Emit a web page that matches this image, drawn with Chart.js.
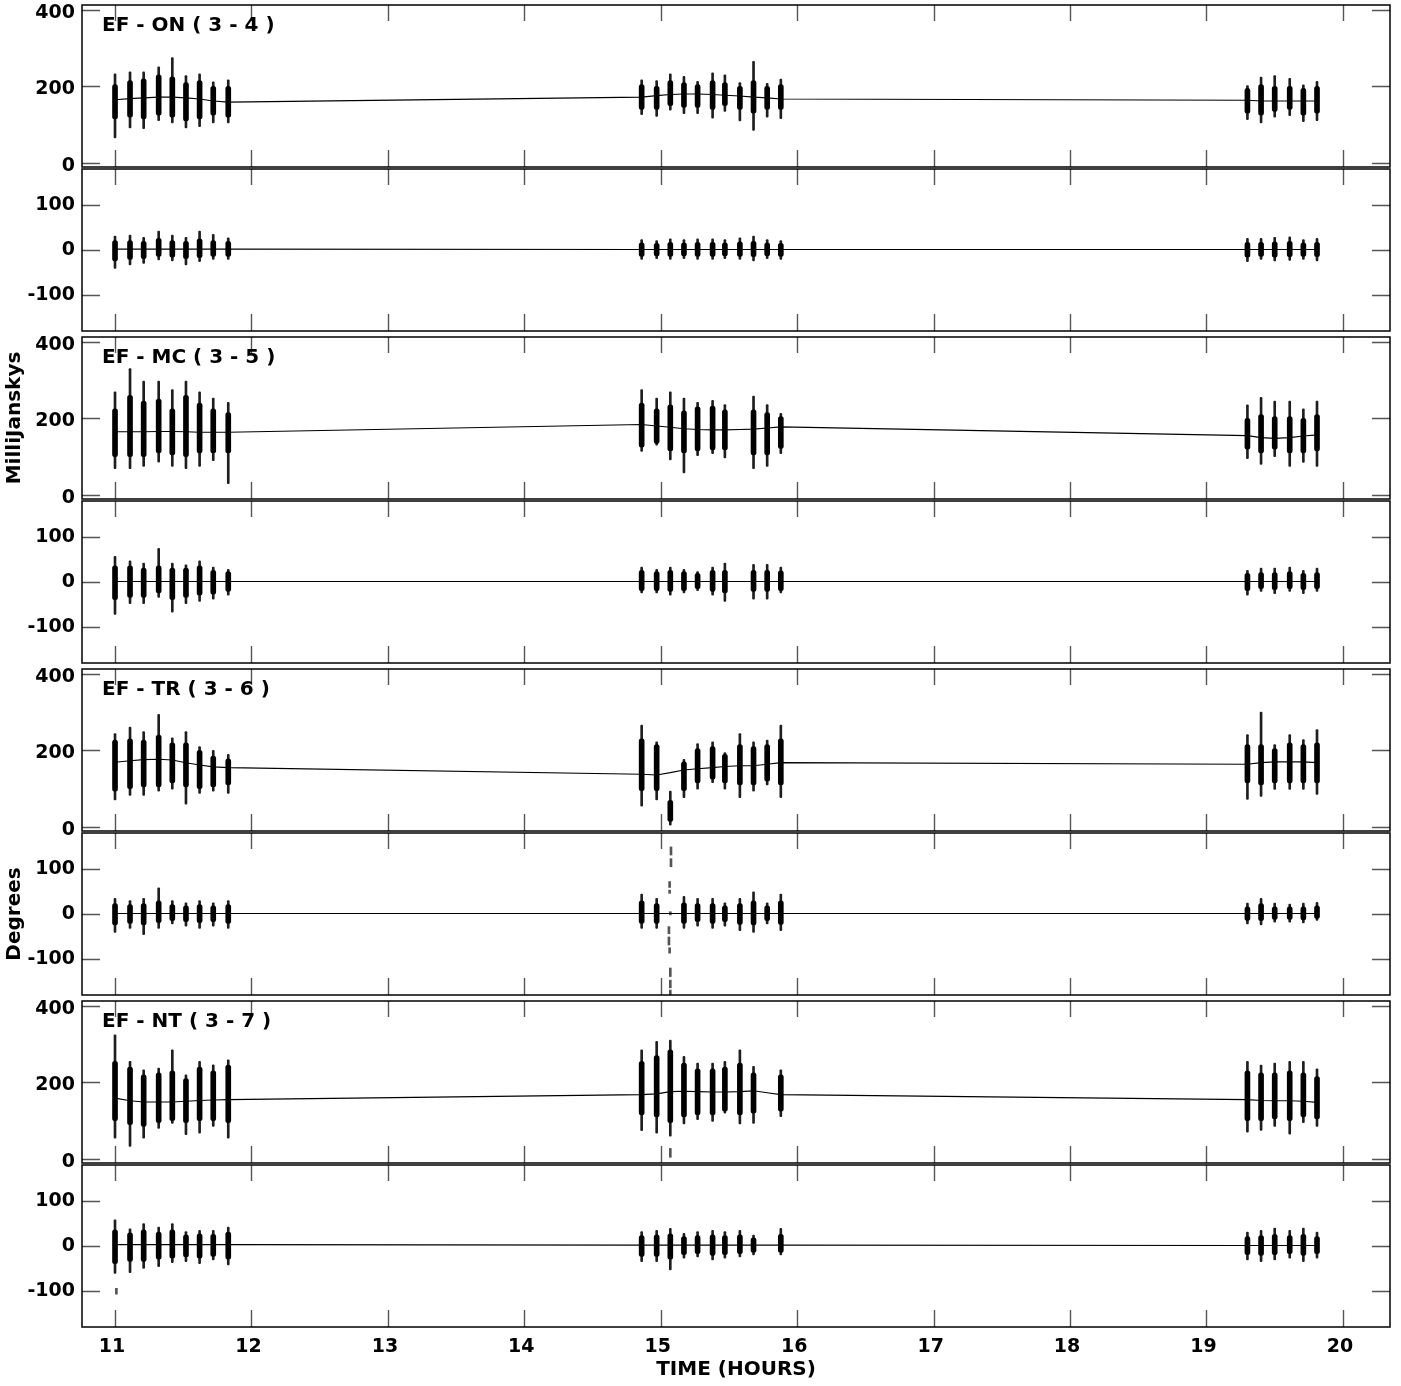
<!DOCTYPE html>
<html>
<head>
<meta charset="utf-8">
<script src="https://cdn.jsdelivr.net/npm/chart.js@4.4.1/dist/chart.umd.min.js"></script>
<style>
html,body{margin:0;padding:0;background:#fff;overflow:hidden;}
#wrap{position:relative;width:1401px;height:1386px;background:#fff;overflow:hidden;}
#wrap canvas{position:absolute;left:0;}
</style>
</head>
<body>
<div id="wrap"></div>
<script>
// ---------------- DATA ----------------
const scanTimes = [11.00, 11.11, 11.21, 11.32, 11.42, 11.52, 11.62, 11.72, 11.83,
                   14.86, 14.97, 15.07, 15.17, 15.27, 15.38, 15.47, 15.58, 15.68, 15.78, 15.88,
                   19.30, 19.40, 19.50, 19.61, 19.71, 19.81];
const xTicks = [11, 12, 13, 14, 15, 16, 17, 18, 19, 20];
const ampTicks = [0, 200, 400];
const phaseTicks = [-100, 0, 100];
const baselineTitles = ['EF - ON ( 3 - 4 )', 'EF - MC ( 3 - 5 )', 'EF - TR ( 3 - 6 )', 'EF - NT ( 3 - 7 )'];
const xTitle = 'TIME (HOURS)';
const ampTitle = 'MilliJanskys';
const phaseTitle = 'Degrees';

// EF - ON
const onAmpLo     = [66, 92, 90, 111, 105, 92, 95, 105, 105, 126, 122, 138, 129, 129, 117, 135, 110, 85, 120, 116, 113, 105, 120, 124, 108, 111];
const onAmpHi     = [233, 238, 238, 251, 275, 228, 233, 212, 217, 217, 215, 233, 226, 213, 235, 230, 210, 265, 208, 219, 202, 224, 228, 221, 204, 213];
const onAmpCoreLo = [115, 120, 115, 125, 120, 110, 115, 125, 120, 140, 140, 150, 145, 145, 140, 150, 140, 130, 140, 140, 130, 125, 135, 140, 125, 130];
const onAmpCoreHi = [205, 215, 220, 230, 225, 210, 215, 200, 200, 205, 200, 215, 210, 205, 215, 210, 200, 215, 200, 205, 195, 205, 200, 200, 195, 200];
const onAmpModel  = [165, 168, 170, 172, 172, 170, 167, 162, 159, 172, 176, 179, 180, 180, 179, 177, 175, 172, 170, 167, 164, 162, 162, 162, 162, 162];
const onPhLo      = [-42, -34, -31, -23, -25, -34, -27, -22, -22, -22, -20, -22, -20, -22, -22, -20, -22, -25, -20, -22, -27, -22, -25, -24, -22, -25];
const onPhHi      = [30, 32, 27, 41, 32, 27, 41, 34, 26, 22, 20, 24, 22, 24, 24, 22, 26, 30, 22, 20, 25, 25, 27, 28, 22, 25];
const onPhCoreLo  = [-25, -22, -20, -15, -17, -20, -18, -15, -15, -15, -14, -15, -14, -15, -15, -14, -15, -16, -14, -15, -17, -15, -17, -16, -15, -16];
const onPhCoreHi  = [20, 20, 18, 25, 20, 18, 24, 20, 18, 15, 14, 16, 15, 16, 16, 15, 17, 18, 15, 14, 16, 16, 17, 18, 15, 16];
const onPhModel   = [1, 1, 1, 1, 1, 1, 1, 1, 1, 0, 0, 0, 0, 0, 0, 0, 0, 0, 0, 0, 0, 0, 0, 0, 0, 0];

// EF - MC
const mcAmpLo     = [69, 69, 75, 86, 75, 69, 75, 90, 30, 114, 130, 92, 58, 103, 108, 97, null, 69, 75, 108, 95, 80, 100, 75, 85, 75];
const mcAmpHi     = [269, 330, 297, 297, 275, 297, 269, 253, 242, 275, 253, 269, 253, 242, 247, 236, null, 258, 236, 213, 235, 255, 245, 245, 225, 245];
const mcAmpCoreLo = [100, 100, 100, 110, 105, 100, 110, 110, 110, 125, 135, 115, 110, 115, 118, 118, null, 105, 105, 122, 120, 110, 120, 110, 110, 115];
const mcAmpCoreHi = [225, 260, 245, 250, 225, 260, 240, 225, 215, 240, 225, 235, 220, 230, 232, 222, null, 222, 215, 205, 200, 210, 205, 205, 200, 210];
const mcAmpModel  = [165, 165, 165, 166, 166, 165, 164, 164, 164, 184, 180, 177, 173, 171, 170, 170, 171, 172, 175, 178, 155, 150, 148, 150, 154, 157];
const mcPhLo      = [-73, -49, -49, -35, -68, -49, -44, -39, -30, -25, -25, -30, -25, -20, -30, -44, null, -39, -39, -25, -30, -22, -27, -22, -27, -22];
const mcPhHi      = [56, 46, 41, 74, 41, 37, 46, 32, 27, 32, 27, 32, 27, 22, 32, 41, null, 38, 38, 32, 25, 30, 30, 32, 25, 30];
const mcPhCoreLo  = [-40, -35, -35, -25, -40, -35, -30, -28, -22, -20, -20, -22, -20, -16, -22, -25, null, -22, -22, -20, -20, -16, -18, -16, -18, -16];
const mcPhCoreHi  = [35, 35, 30, 35, 30, 30, 35, 25, 22, 25, 22, 25, 22, 18, 25, 25, null, 25, 25, 24, 18, 20, 20, 22, 18, 20];
const mcPhModel   = [0, 0, 0, 0, 0, 0, 0, 0, 0, 0, 0, 0, 0, 0, 0, 0, 0, 0, 0, 0, 0, 0, 0, 0, 0, 0];

// EF - TR
const trAmpLo     = [71, 83, 83, 94, 99, 60, 88, 94, 88, 55, 71, 5, 77, 99, 116, 99, 77, 94, 110, 77, 72, 80, 98, 98, 98, 85];
const trAmpHi     = [244, 261, 249, 294, 233, 249, 210, 200, 190, 266, 222, 94, 177, 218, 222, 194, 244, 222, 227, 266, 241, 300, 215, 241, 228, 254];
const trAmpCoreLo = [94, 100, 105, 105, 115, 105, 100, 105, 110, 95, 95, 15, 95, 115, 125, 115, 110, 110, 120, 110, 115, 110, 115, 115, 115, 115];
const trAmpCoreHi = [227, 230, 227, 240, 220, 220, 200, 185, 178, 230, 215, 70, 170, 205, 210, 190, 215, 210, 215, 230, 215, 215, 205, 220, 215, 220];
const trAmpModel  = [169, 173, 176, 177, 175, 168, 162, 157, 155, 138, 136, 142, 149, 152, 155, 158, 160, 160, 164, 168, 164, 168, 170, 170, 170, 168];
const trPhLo      = [-42, -33, -47, -33, -23, -28, -33, -28, -33, -33, -33, null, -33, -28, -33, -28, -38, -42, -23, -38, -23, -25, -19, -19, -21, -15];
const trPhHi      = [34, 29, 34, 57, 29, 24, 29, 24, 29, 43, 34, null, 38, 34, 34, 24, 34, 48, 24, 43, 23, 34, 23, 21, 23, 25];
const trPhCoreLo  = [-25, -22, -25, -20, -16, -18, -20, -18, -22, -22, -22, null, -22, -18, -22, -18, -24, -25, -16, -24, -15, -16, -13, -13, -14, -11];
const trPhCoreHi  = [22, 20, 22, 28, 20, 17, 20, 17, 20, 28, 22, null, 24, 22, 22, 17, 22, 28, 17, 28, 15, 22, 15, 15, 15, 17];
const trPhModel   = [0, 0, 0, 0, 0, 0, 0, 0, 0, 0, 0, 0, 0, 0, 0, 0, 0, 0, 0, 0, 0, 0, 0, 0, 0, 0];
// scattered points of the disturbed scan (time, low, high)
const trPhStrayT  = [15.075, 15.075, 15.065, 15.065, 15.07, 15.06, 15.06, 15.065, 15.07, 15.07, 15.07];
const trPhStrayLo = [130, 104, 58, 45, -3, -45, -70, -88, -140, -165, -181];
const trPhStrayHi = [148, 122, 71, 52, 4, -29, -52, -76, -121, -148, -170];

// EF - NT
const ntAmpLo     = [55, 33, 55, 80, 93, 64, 68, 85, 55, 74, 68, 60, 92, 103, 98, 120, 92, 93, null, 111, 70, 75, 85, 65, 95, 85];
const ntAmpHi     = [324, 255, 233, 237, 285, 220, 255, 246, 259, 285, 307, 310, 268, 250, 250, 255, 285, 242, null, 233, 255, 245, 250, 255, 255, 235];
const ntAmpCoreLo = [100, 90, 85, 95, 100, 95, 100, 100, 95, 115, 110, 95, 110, 115, 115, 125, 115, 120, null, 125, 100, 100, 105, 100, 110, 105];
const ntAmpCoreHi = [255, 240, 220, 225, 230, 210, 240, 230, 245, 255, 270, 285, 250, 235, 235, 240, 250, 225, null, 220, 230, 225, 225, 230, 225, 215];
const ntAmpModel  = [159, 152, 149, 149, 149, 151, 153, 154, 155, 168, 170, 176, 177, 176, 175, 175, 176, 178, 173, 168, 155, 153, 152, 152, 151, 148];
const ntAmpStrayT  = [15.07];
const ntAmpStrayLo = [5];
const ntAmpStrayHi = [28];
const ntPhLo      = [-62, -60, -51, -47, -38, -36, -40, -32, -43, -36, -36, -54, -28, -25, -32, -28, -25, -21, null, -21, -32, -36, -32, -28, -36, -28];
const ntPhHi      = [57, 37, 49, 41, 49, 31, 34, 34, 41, 31, 34, 38, 27, 31, 34, 31, 34, 23, null, 38, 30, 34, 39, 34, 39, 30];
const ntPhCoreLo  = [-40, -35, -35, -30, -28, -25, -28, -24, -30, -24, -24, -30, -20, -18, -22, -20, -18, -15, null, -15, -20, -22, -20, -18, -22, -18];
const ntPhCoreHi  = [35, 28, 35, 30, 35, 24, 26, 25, 30, 22, 24, 26, 20, 22, 24, 22, 24, 17, null, 25, 20, 22, 25, 22, 25, 20];
const ntPhModel   = [2, 2, 2, 2, 2, 2, 2, 2, 2, 1, 1, 1, 1, 1, 1, 1, 1, 1, 1, 1, 0, 0, 0, 0, 0, 0];
const ntPhStrayT  = [11.01];
const ntPhStrayLo = [-108];
const ntPhStrayHi = [-95];

// ---------------- LAYOUT ----------------
const W = 1401, H = 1386;
const OFF = 40;                       // extra canvas margin above/below the page
const PLOT_LEFT = 82, PLOT_RIGHT = 1390;
const X_MIN = 10.758, X_MAX = 20.345;
const AMP_MIN = -10, AMP_MAX = 412;
const PH_MIN = -181, PH_MAX = 179;
const PAIR_TOPS = [5, 337, 669, 1001];
const PANEL_H = 162;
const FONT = '"DejaVu Sans", "Liberation Sans", Arial, sans-serif';

function rangeData(times, lo, hi) {
  const out = [];
  for (let i = 0; i < times.length; i++) {
    if (lo[i] == null || hi[i] == null) continue;
    out.push({ x: times[i], y: [lo[i], hi[i]] });
  }
  return out;
}
function lineData(times, vals) {
  return times.map((t, i) => ({ x: t, y: vals[i] }));
}

const series = [
  { amp: [onAmpLo, onAmpHi, onAmpCoreLo, onAmpCoreHi, onAmpModel], ampStray: null,
    ph: [onPhLo, onPhHi, onPhCoreLo, onPhCoreHi, onPhModel], phStray: null },
  { amp: [mcAmpLo, mcAmpHi, mcAmpCoreLo, mcAmpCoreHi, mcAmpModel], ampStray: null,
    ph: [mcPhLo, mcPhHi, mcPhCoreLo, mcPhCoreHi, mcPhModel], phStray: null },
  { amp: [trAmpLo, trAmpHi, trAmpCoreLo, trAmpCoreHi, trAmpModel], ampStray: null,
    ph: [trPhLo, trPhHi, trPhCoreLo, trPhCoreHi, trPhModel], phStray: [trPhStrayT, trPhStrayLo, trPhStrayHi] },
  { amp: [ntAmpLo, ntAmpHi, ntAmpCoreLo, ntAmpCoreHi, ntAmpModel], ampStray: [ntAmpStrayT, ntAmpStrayLo, ntAmpStrayHi],
    ph: [ntPhLo, ntPhHi, ntPhCoreLo, ntPhCoreHi, ntPhModel], phStray: [ntPhStrayT, ntPhStrayLo, ntPhStrayHi] }
];

function makeFrame(yTickVals, title) {
  return {
    id: 'frame',
    afterDraw(chart) {
      const { ctx, chartArea: a, scales } = chart;
      ctx.save();
      ctx.strokeStyle = '#555';
      ctx.lineWidth = 1.4;
      ctx.beginPath();
      xTicks.forEach(v => {
        const px = Math.round(scales.x.getPixelForValue(v)) + 0.5;
        ctx.moveTo(px, a.top); ctx.lineTo(px, a.top + 16);
        ctx.moveTo(px, a.bottom); ctx.lineTo(px, a.bottom - 17);
      });
      yTickVals.forEach(v => {
        const py = Math.round(scales.y.getPixelForValue(v)) + 0.5;
        ctx.moveTo(a.left, py); ctx.lineTo(a.left + 18, py);
        ctx.moveTo(a.right, py); ctx.lineTo(a.right - 18, py);
      });
      ctx.stroke();
      ctx.strokeStyle = '#000';
      ctx.lineWidth = 1.5;
      ctx.strokeRect(a.left, a.top, a.right - a.left, a.bottom - a.top);
      if (title) {
        ctx.fillStyle = '#000';
        ctx.font = 'bold 20px ' + FONT;
        ctx.textBaseline = 'alphabetic';
        ctx.textAlign = 'left';
        ctx.fillText(title, a.left + 20, a.top + 26);
      }
      ctx.restore();
    }
  };
}

const wrap = document.getElementById('wrap');

function buildPanel(top, isAmp, arrays, stray, title, yTitle, isLast) {
  const bottom = top + PANEL_H;
  const CH = H + 2 * OFF;
  const cv = document.createElement('canvas');
  cv.width = W; cv.height = CH;
  cv.style.width = W + 'px'; cv.style.height = CH + 'px';
  cv.style.top = (-OFF) + 'px';
  wrap.appendChild(cv);
  const [lo, hi, clo, chi, model] = arrays;
  const datasets = [
    { type: 'bar', data: rangeData(scanTimes, lo, hi), backgroundColor: '#1e1e1e', barThickness: 2, borderRadius: 1, borderSkipped: false, grouped: false, order: 3 },
    { type: 'bar', data: rangeData(scanTimes, clo, chi), backgroundColor: '#000', barThickness: 5, borderRadius: 2.5, borderSkipped: false, grouped: false, order: 2 },
    { type: 'line', data: lineData(scanTimes, model), borderColor: '#000', borderWidth: 1.1, pointRadius: 0, tension: 0, fill: false, order: 1 }
  ];
  if (stray) {
    datasets.push({ type: 'bar', data: rangeData(stray[0], stray[1], stray[2]), backgroundColor: '#555', barThickness: 2, grouped: false, order: 4 });
  }
  const tickVals = isAmp ? ampTicks : phaseTicks;
  const xOpts = {
    type: 'linear', min: X_MIN, max: X_MAX, offset: false, display: isLast,
    grid: { display: false, drawTicks: false }, border: { display: false },
    afterBuildTicks: s => { s.ticks = xTicks.map(v => ({ value: v })); },
    ticks: { color: '#000', font: { family: FONT, size: 19, weight: 'bold' }, padding: 9, labelOffset: -3, autoSkip: false, maxRotation: 0 },
    title: { display: isLast, text: xTitle, color: '#000', font: { family: FONT, size: 20, weight: 'bold' }, padding: { top: 0, bottom: 4 } }
  };
  if (isLast) xOpts.afterFit = s => { s.height = H - bottom; };
  new Chart(cv, {
    type: 'bar',
    data: { datasets },
    options: {
      responsive: false, animation: false, events: [], devicePixelRatio: 1,
      layout: { padding: { top: top + OFF, bottom: isLast ? OFF : H - bottom + OFF, left: 0, right: W - PLOT_RIGHT } },
      plugins: { legend: { display: false }, tooltip: { enabled: false } },
      scales: {
        x: xOpts,
        y: {
          type: 'linear', min: isAmp ? AMP_MIN : PH_MIN, max: isAmp ? AMP_MAX : PH_MAX,
          grid: { display: false, drawTicks: false }, border: { display: false },
          afterBuildTicks: s => { s.ticks = tickVals.map(v => ({ value: v })); },
          afterFit: s => { s.width = PLOT_LEFT; },
          ticks: { color: '#000', font: { family: FONT, size: 19, weight: 'bold' }, padding: 7, labelOffset: isAmp ? 3 : 1 },
          title: { display: !!yTitle, text: yTitle || '', color: '#000', font: { family: FONT, size: 20, weight: 'bold' }, padding: { top: 3, bottom: 0 } }
        }
      }
    },
    plugins: [makeFrame(tickVals, title)]
  });
}

series.forEach((s, k) => {
  const A = PAIR_TOPS[k];
  buildPanel(A, true, s.amp, s.ampStray, baselineTitles[k], k === 1 ? ampTitle : null, false);
  buildPanel(A + 164, false, s.ph, s.phStray, null, k === 2 ? phaseTitle : null, k === 3);
});
</script>
</body>
</html>
